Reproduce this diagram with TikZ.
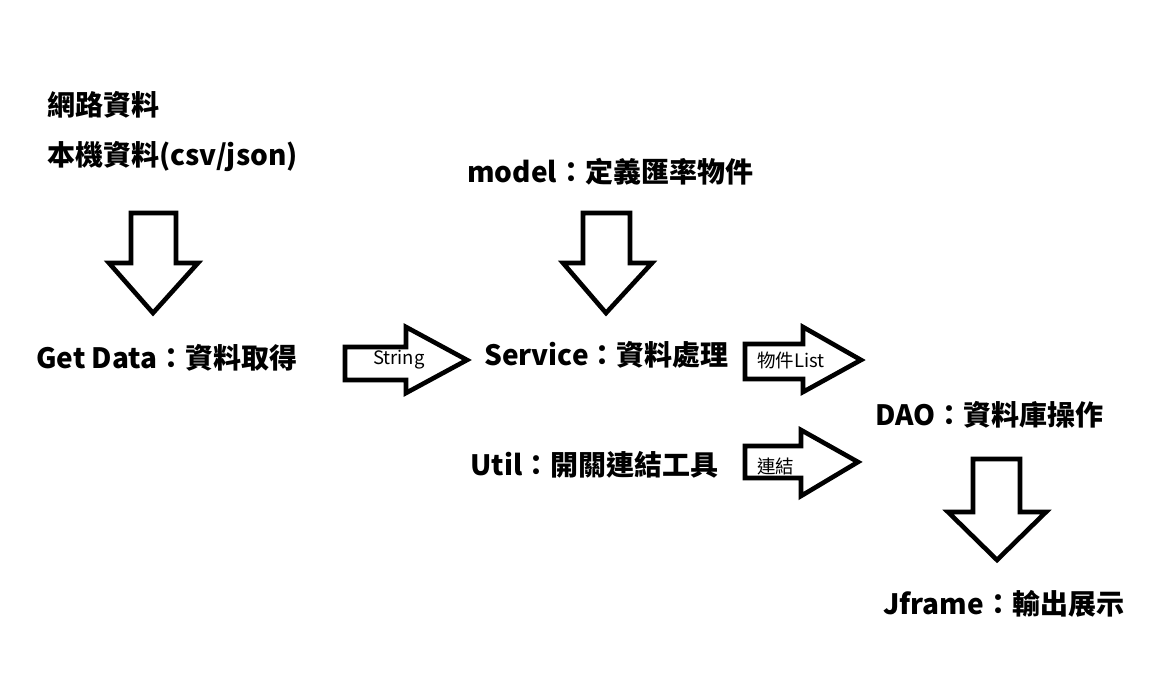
\documentclass[tikz,border=0pt]{standalone}
\usepackage{fontspec}
\setmainfont{Noto Sans CJK TC}
\begin{document}
\begin{tikzpicture}[x=1pt,y=-1pt,
  blockarrow/.style={draw=black,line width=4.6pt,line join=miter,fill=white},
  lbl/.style={anchor=west,inner sep=0pt,font=\fontsize{28}{32}\selectfont\bfseries},
  small/.style={anchor=west,inner sep=0pt,font=\fontsize{18.5}{21}\selectfont}]
\useasboundingbox[fill=white] (0,0) rectangle (1158,692);
% texts
\node[lbl] (net) at (47,105) {網路資料};
\node[lbl] (local) at (47,157) {本機資料(csv/json)};
\node[lbl] (model) at (467,172) {model：定義匯率物件};
\node[lbl] (get) at (36,358) {Get Data：資料取得};
\node[lbl] (service) at (484,355) {Service：資料處理};
\node[lbl] (util) at (470,465) {Util：開關連結工具};
\node[lbl] (dao) at (875,415) {DAO：資料庫操作};
\node[lbl] (jframe) at (883,604) {Jframe：輸出展示};
% down arrows
\draw[blockarrow] (131,213) -- (176,213) -- (176,263) -- (198,263) -- (153,313) -- (109,263) -- (131,263) -- cycle;
\draw[blockarrow] (583,213) -- (630,213) -- (630,263) -- (652,263) -- (606,313) -- (563,263) -- (583,263) -- cycle;
\draw[blockarrow] (973,459) -- (1020,459) -- (1020,512) -- (1046,512) -- (997,560) -- (948,512) -- (973,512) -- cycle;
% right arrows
\draw[blockarrow] (345,347) -- (406,347) -- (406,327) -- (467,360) -- (406,393) -- (406,380) -- (345,380) -- cycle;
\draw[blockarrow] (745,344) -- (803,344) -- (803,327) -- (861,360) -- (803,392) -- (803,379) -- (745,379) -- cycle;
\draw[blockarrow] (745,446) -- (801,446) -- (801,430) -- (858,462) -- (801,496) -- (801,478) -- (745,478) -- cycle;
% arrow labels
\node[small] (s1) at (373,360) {String};
\node[small] (s2) at (757,360) {物件List};
\node[small] (s3) at (757,466) {連結};
\end{tikzpicture}
\end{document}
